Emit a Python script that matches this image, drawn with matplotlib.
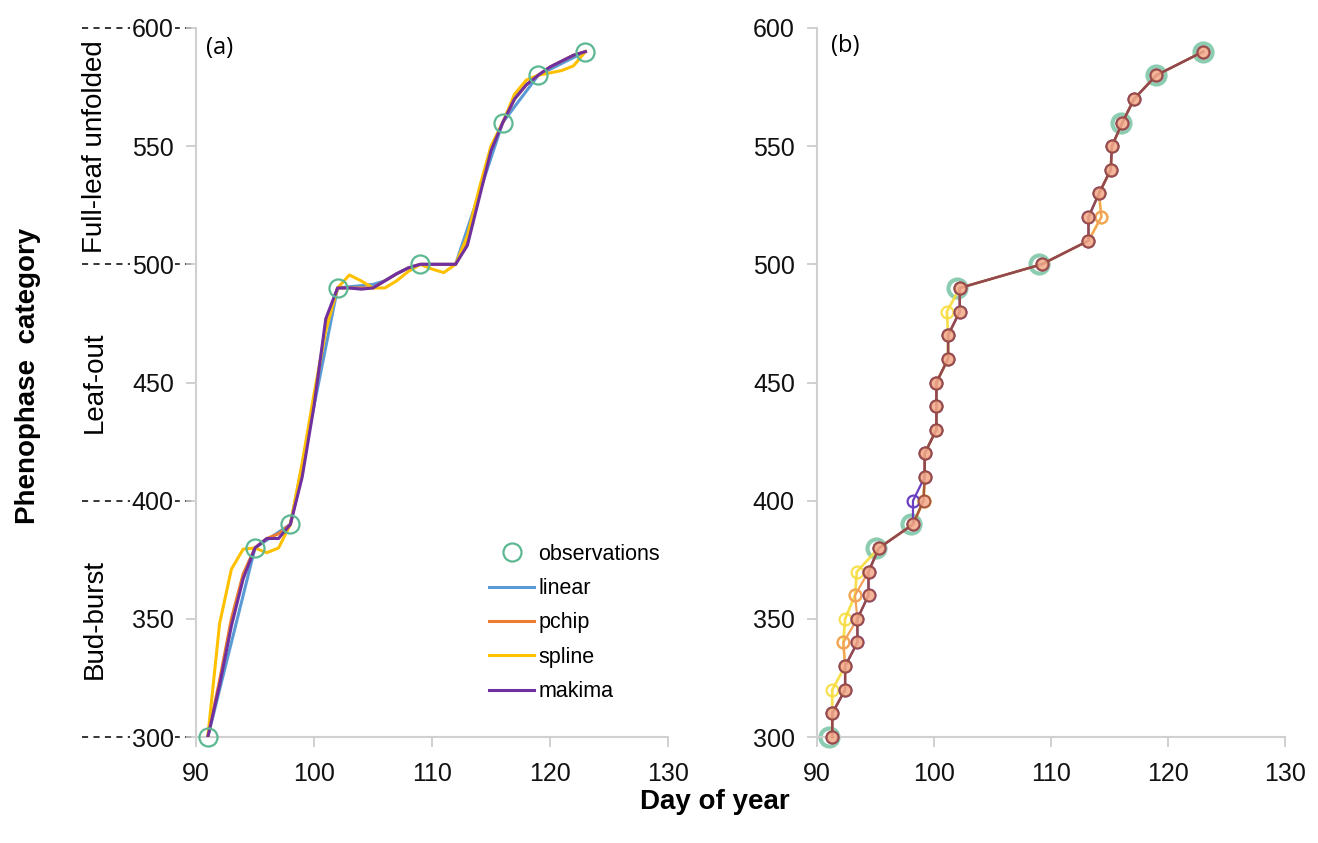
import numpy as np
import matplotlib
matplotlib.use('Agg')
import matplotlib.pyplot as plt
import matplotlib.transforms as mtransforms

plt.rcParams['font.family'] = ['Liberation Sans', 'DejaVu Sans']

# ---- panel (a): daily interpolated phenophase values ----
obs_day = [91, 95, 98, 102, 109, 116, 119, 123]
obs_val = [300, 380, 390, 490, 500, 560, 580, 590]

days_a = list(range(91, 124))
linear_a = [300, 320, 340, 360, 380, 383.3, 386.7, 390, 415, 440, 465, 490, 490.5, 491, 491.5,
            493, 496, 498.5, 500, 500, 500, 500, 515, 530, 545, 560, 566.7, 573.3, 580,
            582.5, 585, 587.5, 590]
pchip_a = [300, 324, 350, 369, 380, 384, 386, 390, 412, 442, 474, 490, 490, 490, 490,
           493, 496, 498.5, 500, 500, 500, 500, 509, 530, 549, 560, 570, 576, 580,
           583.5, 586, 588.5, 590]
spline_a = [300, 348, 371, 379.5, 380, 378, 380, 390, 416, 445, 472, 490, 495.5, 493, 490,
            490, 493, 497, 500, 498, 496.5, 500, 512, 532, 550, 560, 572, 578, 580,
            581, 582, 584, 590]
makima_a = [300, 322, 347, 367, 380, 384, 384, 390, 410, 440, 477, 490, 490, 489.5, 490,
            493, 496, 498.5, 500, 500, 500, 500, 508, 528, 548, 560, 570, 576, 580,
            583.5, 586, 588.5, 590]

# ---- panel (b): day on which each 10-unit level is reached ----
levels_b = list(range(300, 600, 10))
linear_b = [91.3, 91.3, 92.4, 92.4, 93.45, 93.45, 94.4, 94.4, 95.3, 98.2, 99.1, 99.2, 99.2,
            100.2, 100.2, 100.2, 101.2, 101.2, 102.2, 102.2, 109.2, 113.2, 113.2, 114.1,
            115.1, 115.2, 116.1, 117.1, 119.0, 123.0]
pchip_b = [91.3, 91.3, 92.4, 92.4, 92.25, 93.45, 93.25, 94.4, 95.3, 98.2, 99.1, 99.2, 99.2,
           100.2, 100.2, 100.2, 101.2, 101.2, 102.2, 102.2, 109.2, 113.2, 114.3, 114.1,
           115.1, 115.2, 116.1, 117.1, 119.0, 123.0]
spline_b = [91.3, 91.3, 91.3, 92.4, 92.25, 92.4, 93.25, 93.4, 95.3, 98.2, 99.1, 99.2, 99.2,
            100.2, 100.2, 100.2, 101.2, 101.2, 101.1, 102.2, 109.2, 113.2, 114.3, 114.1,
            115.1, 115.2, 116.1, 117.1, 119.0, 123.0]
makima_b = [91.3, 91.3, 92.4, 92.4, 93.45, 93.45, 94.4, 94.4, 95.3, 98.2, 98.2, 99.2, 99.2,
            100.2, 100.2, 100.2, 101.2, 101.2, 102.2, 102.2, 109.2, 113.2, 113.2, 114.1,
            115.1, 115.2, 116.1, 117.1, 119.0, 123.0]

phases = ['Bud-burst', 'Leaf-out', 'Full-leaf unfolded']
phase_mid = [350, 450, 550]
phase_bounds = [300, 400, 500, 600]

c_obs = '#5cb892'
c_lin = '#5b9bd5'
c_pch = '#ed7d31'
c_spl = '#ffc000'
c_mak = '#7030a0'

fig = plt.figure(figsize=(13.18, 8.43), dpi=100)
ax1 = fig.add_axes([0.1487, 0.1257, 0.3581, 0.8411])
ax2 = fig.add_axes([0.6199, 0.1257, 0.3551, 0.8411])

for ax in (ax1, ax2):
    ax.set_xlim(90, 130)
    ax.set_ylim(300, 600)
    ax.set_xticks(np.arange(90, 131, 10))
    ax.set_yticks(np.arange(300, 601, 50))
    for s in ('top', 'right'):
        ax.spines[s].set_visible(False)
    for s in ('left', 'bottom'):
        ax.spines[s].set_color('#d0d0d0')
        ax.spines[s].set_linewidth(1.5)
    ax.tick_params(axis='both', length=7, width=1.2, color='#c8c8c8',
                   labelsize=18, pad=9, labelcolor='#111111')
    ax.tick_params(axis='x', pad=11)

# panel (a)
ax1.plot(obs_day, obs_val, 'o', ms=13, mfc='none', mec=c_obs, mew=1.6,
         label='observations', clip_on=False, zorder=5)
ax1.plot(days_a, linear_a, color=c_lin, lw=2.2, label='linear', zorder=3)
ax1.plot(days_a, pchip_a, color=c_pch, lw=2.2, label='pchip', zorder=3)
ax1.plot(days_a, spline_a, color=c_spl, lw=2.2, label='spline', zorder=3)
ax1.plot(days_a, makima_a, color=c_mak, lw=2.2, label='makima', zorder=4)
ax1.legend(loc='upper left', bbox_to_anchor=(0.58, 0.30), frameon=False,
           fontsize=15.5, handlelength=2.1, handletextpad=0.2, labelspacing=0.62)
ax1.text(0.022, 0.972, '(a)', transform=ax1.transAxes, fontsize=17,
         family=['Open Sans', 'DejaVu Sans'], va='center', ha='left')

# dashed category boundaries left of panel (a)
trans = mtransforms.blended_transform_factory(ax1.transAxes, ax1.transData)
for yb in phase_bounds:
    ax1.plot([-0.2415, 0], [yb, yb], color='black', lw=1.1, ls=(0, (4, 3.5)),
             transform=trans, clip_on=False, zorder=1)
for lab in ax1.get_yticklabels():
    lab.set_bbox(dict(facecolor='white', edgecolor='none', pad=1))
for name, ym in zip(phases, phase_mid):
    ax1.text(-0.214, ym, name, transform=trans, rotation=90, fontsize=20,
             ha='center', va='center')

# panel (b)
ax2.plot(obs_day, obs_val, 'o', ms=13, mfc='none', mec=c_obs, mew=3, alpha=0.7,
         clip_on=False, zorder=2)
ax2.plot(spline_b, levels_b, '-o', color='#f7dc3c', lw=2, ms=8.5, mfc='none', mew=1.6,
         alpha=0.9, clip_on=False, zorder=3)
ax2.plot(pchip_b, levels_b, '-o', color='#f2a25a', lw=1.6, ms=8.5, mfc='none', mew=1.6,
         clip_on=False, zorder=3)
ax2.plot(makima_b, levels_b, '-o', color='#6a3fc0', lw=1.6, ms=8.5, mfc='none', mew=1.6,
         clip_on=False, zorder=4)
ax2.plot(linear_b, levels_b, '-o', color='#9a4a3a', lw=1.8, ms=8.5, mfc='#f2a98a', mew=1.4,
         alpha=0.85, clip_on=False, zorder=5)
ax2.text(0.03, 0.975, '(b)', transform=ax2.transAxes, fontsize=17,
         family=['Open Sans', 'DejaVu Sans'], va='center', ha='left')

fig.text(0.021, 0.554, 'Phenophase  category', rotation=90, fontsize=20,
         fontweight='bold', ha='center', va='center')
fig.text(0.5425, 0.049, 'Day of year', fontsize=20, fontweight='bold',
         ha='center', va='center')

fig.savefig('out.png', dpi=100)
